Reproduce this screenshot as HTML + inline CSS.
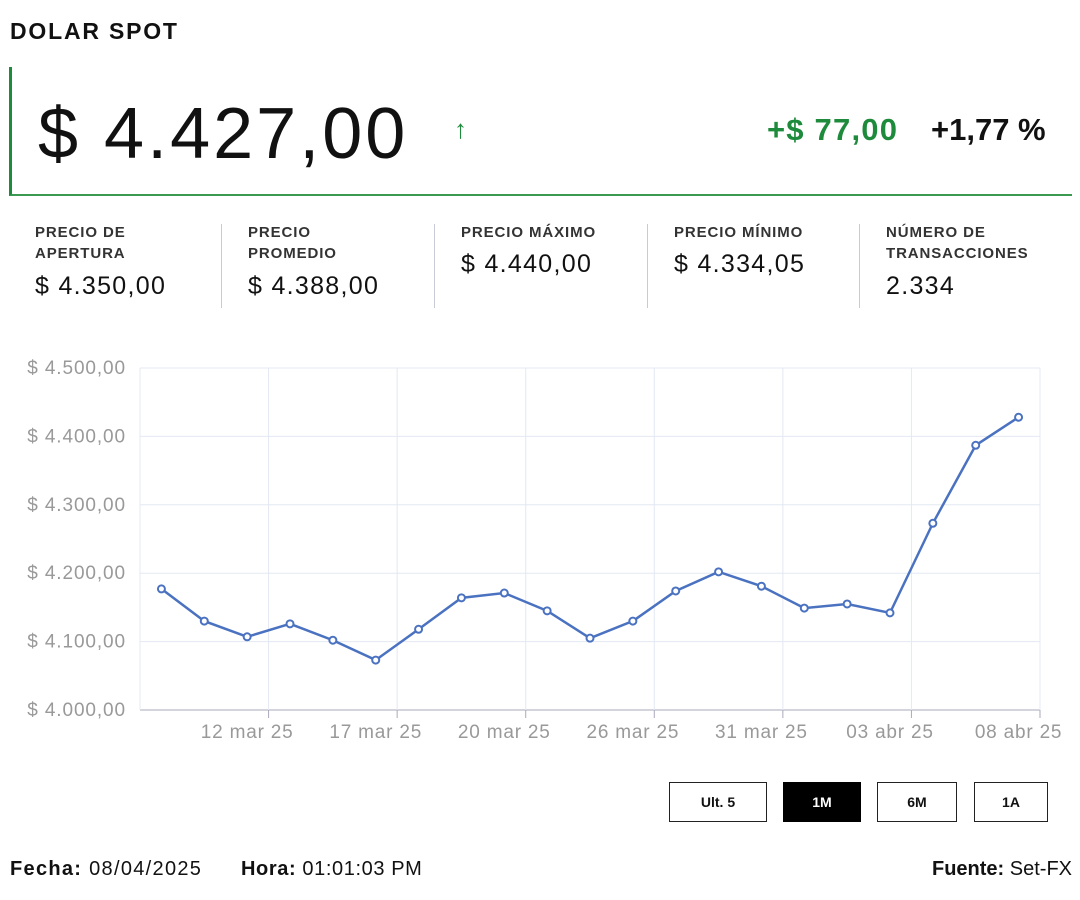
<!DOCTYPE html>
<html><head><meta charset="utf-8">
<style>
body{margin:0;width:1080px;height:900px;background:#fff;font-family:"Liberation Sans",sans-serif;color:#111;position:relative;overflow:hidden}
.abs{position:absolute}
.lbl{font-size:15px;font-weight:bold;color:#333;line-height:21px;letter-spacing:.9px}
.val{font-size:25px;color:#111;letter-spacing:1.3px}
.sep{position:absolute;top:224px;width:1px;height:84px;background:#c8cad8}
.btn{position:absolute;top:782px;height:40px;border:1.5px solid #222;box-sizing:border-box;font-size:14px;font-weight:bold;display:flex;align-items:center;justify-content:center;background:#fff}
</style></head><body>
<div class="abs" style="left:10px;top:18px;font-size:23px;font-weight:bold;letter-spacing:1.8px">DOLAR SPOT</div>
<div class="abs" style="left:9px;top:67px;width:1063px;height:129px;border-left:3px solid #1e8a3c;border-bottom:2px solid #3a9a52;box-sizing:border-box"></div>
<div class="abs" style="left:38px;top:92px;font-size:72px;line-height:84px;letter-spacing:3px">$ 4.427,00</div>
<div class="abs" style="left:454px;top:114px;font-size:26px;font-weight:bold;color:#1e8a3c">↑</div>
<div class="abs" style="left:767px;top:112px;font-size:31px;font-weight:bold;color:#1e8a3c;letter-spacing:1.2px">+$ 77,00</div>
<div class="abs" style="left:931px;top:112px;font-size:31px;font-weight:bold">+1,77 %</div>

<div class="abs" style="left:35px;top:222px"><div class="lbl">PRECIO DE<br>APERTURA</div><div class="val" style="margin-top:8px">$ 4.350,00</div></div>
<div class="sep" style="left:221px"></div>
<div class="abs" style="left:248px;top:222px"><div class="lbl">PRECIO<br>PROMEDIO</div><div class="val" style="margin-top:8px">$ 4.388,00</div></div>
<div class="sep" style="left:434px"></div>
<div class="abs" style="left:461px;top:222px"><div class="lbl">PRECIO MÁXIMO</div><div class="val" style="margin-top:7px">$ 4.440,00</div></div>
<div class="sep" style="left:647px"></div>
<div class="abs" style="left:674px;top:222px"><div class="lbl">PRECIO MÍNIMO</div><div class="val" style="margin-top:7px">$ 4.334,05</div></div>
<div class="sep" style="left:859px"></div>
<div class="abs" style="left:886px;top:222px"><div class="lbl">NÚMERO DE<br>TRANSACCIONES</div><div class="val" style="margin-top:8px">2.334</div></div>

<svg class="abs" style="left:0;top:0" width="1080" height="780" id="chart"></svg>

<div class="btn" style="left:669px;width:98px">Ult. 5</div>
<div class="btn" style="left:783px;width:78px;background:#000;color:#fff;border-color:#000">1M</div>
<div class="btn" style="left:877px;width:80px">6M</div>
<div class="btn" style="left:974px;width:74px">1A</div>

<div class="abs" style="left:10px;top:858px;font-size:20px;letter-spacing:1.3px"><b>Fecha:</b> 08/04/2025</div>
<div class="abs" style="left:241px;top:858px;font-size:20px;letter-spacing:.6px"><b>Hora:</b> 01:01:03 PM</div>
<div class="abs" style="right:8px;top:858px;font-size:20px"><b>Fuente:</b> Set-FX</div>

<script>
const values=[4177,4130,4107,4126,4102,4073,4118,4164,4171,4145,4105,4130,4174,4202,4181,4149,4155,4142,4273,4387,4428];
const xLabels=["","","12 mar 25","","","17 mar 25","","","20 mar 25","","","26 mar 25","","","31 mar 25","","","03 abr 25","","","08 abr 25"];
const yTicks=[4000,4100,4200,4300,4400,4500];
const NS="http://www.w3.org/2000/svg";
const svg=document.getElementById('chart');
const L=140,R=1040,T=368,B=710,yMin=4000,yMax=4500;
const band=(R-L)/values.length;
const x=i=>L+band*(i+0.5);
const y=v=>B-(v-yMin)/(yMax-yMin)*(B-T);
function mk(t,a){const e=document.createElementNS(NS,t);for(const k in a)e.setAttribute(k,a[k]);svg.appendChild(e);return e;}
yTicks.forEach(v=>{
  const g=mk('line',{x1:L,x2:R,y1:y(v),y2:y(v),stroke:v===yMin?'#aab':'#e3e8f2','stroke-width':1});
  
  
  const t=mk('text',{x:126,y:y(v)+6,'text-anchor':'end','font-size':19,fill:'#999','letter-spacing':'0.9','font-family':'Liberation Sans, sans-serif'});
  t.textContent='$ '+String(v).replace(/(\d)(\d{3})$/,'$1.$2')+',00';
  
  
});
mk('line',{x1:L,x2:L,y1:T,y2:B,stroke:'#e3e8f2'});
for(let i=3;i<=values.length;i+=3){
  const gx=L+band*i;
  const g=mk('line',{x1:gx,x2:gx,y1:T,y2:B,stroke:'#e3e8f2'});
  
  
  mk('line',{x1:gx,x2:gx,y1:B,y2:B+8,stroke:'#aab'});
}
xLabels.forEach((s,i)=>{if(!s)return;
  const t=mk('text',{x:x(i),y:B+28,'text-anchor':'middle','font-size':19,fill:'#999','letter-spacing':'0.8','font-family':'Liberation Sans, sans-serif'});
  t.textContent=s;
  
  
});
const line=mk('polyline',{points:values.map((v,i)=>x(i)+','+y(v)).join(' '),fill:'none',stroke:'#4a72c0','stroke-width':2.5});


values.forEach((v,i)=>{
  const c=mk('circle',{cx:x(i),cy:y(v),r:3.5,fill:'#fff',stroke:'#4a72c0','stroke-width':2});
  
  
});
</script>
</body></html>
